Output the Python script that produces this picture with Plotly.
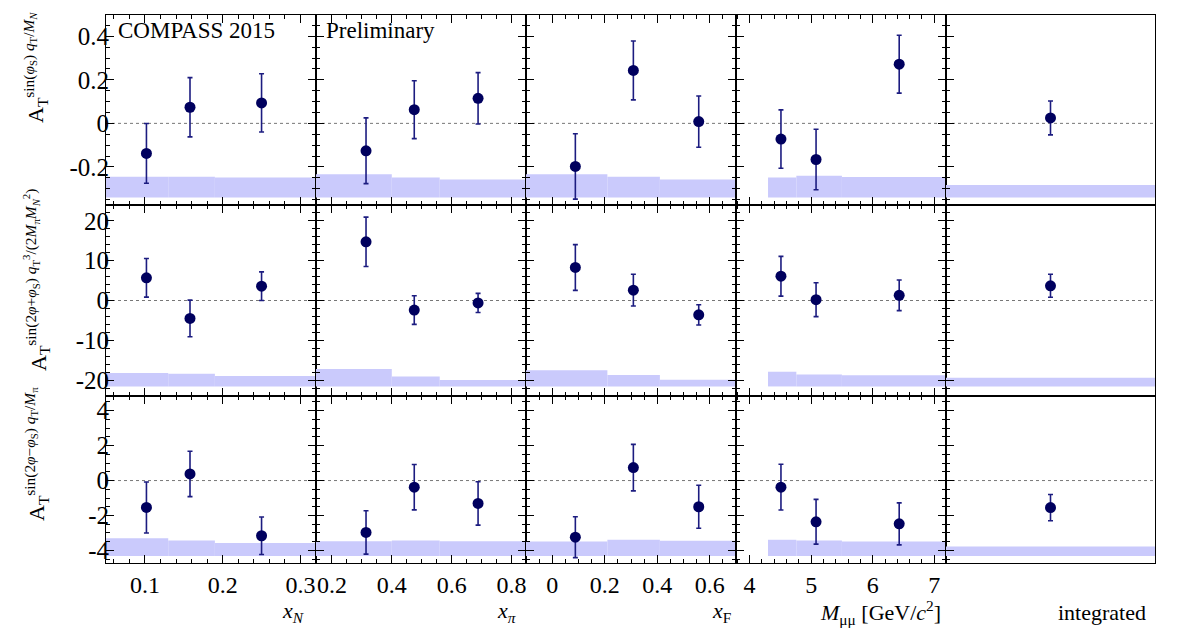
import plotly.graph_objects as go

# ---------------- data ----------------
xN_pts = [0.102, 0.158, 0.250]
xPi_pts = [0.314, 0.475, 0.688]
xF_pts = [0.088, 0.309, 0.558]
M_pts = [4.51, 5.08, 6.43]
int_pts = [0.5]

xN_edges = [0.05, 0.13, 0.19, 0.32]
xPi_edges = [0.147, 0.40, 0.56, 0.848]
xF_edges = [-0.10, 0.21, 0.41, 0.70]
M_edges = [4.30, 4.76, 5.50, 7.19]
int_edges = [0.0, 1.0]

A1_xN = [-0.138, 0.074, 0.094];  E1_xN = [0.137, 0.136, 0.134];  S1_xN = [0.095, 0.095, 0.091]
A1_xPi = [-0.126, 0.063, 0.115]; E1_xPi = [0.151, 0.133, 0.118]; S1_xPi = [0.106, 0.091, 0.082]
A1_xF = [-0.198, 0.243, 0.008];  E1_xF = [0.150, 0.135, 0.118];  S1_xF = [0.106, 0.095, 0.082]
A1_M = [-0.072, -0.166, 0.272];  E1_M = [0.134, 0.139, 0.133];   S1_M = [0.091, 0.099, 0.094]
A1_int = [0.025];                E1_int = [0.078];               S1_int = [0.057]

A2_xN = [5.7, -4.5, 3.6];        E2_xN = [4.85, 4.6, 3.6];       S2_xN = [3.4, 3.2, 2.6]
A2_xPi = [14.75, -2.4, -0.6];    E2_xPi = [6.2, 3.6, 2.4];       S2_xPi = [4.4, 2.5, 1.6]
A2_xF = [8.3, 2.6, -3.6];        E2_xF = [5.75, 4.0, 2.55];      S2_xF = [4.1, 2.9, 1.7]
A2_M = [6.1, 0.2, 1.3];          E2_M = [5.0, 4.25, 3.85];       S2_M = [3.7, 3.0, 2.8]
A2_int = [3.7];                  E2_int = [2.9];                 S2_int = [2.2]

A3_xN = [-1.54, 0.38, -3.16];    E3_xN = [1.46, 1.3, 1.07];      S3_xN = [1.01, 0.89, 0.74]
A3_xPi = [-2.97, -0.38, -1.31];  E3_xPi = [1.24, 1.3, 1.24];     S3_xPi = [0.85, 0.89, 0.85]
A3_xF = [-3.24, 0.74, -1.5];     E3_xF = [1.17, 1.33, 1.23];     S3_xF = [0.83, 0.93, 0.87]
A3_M = [-0.38, -2.36, -2.48];    E3_M = [1.31, 1.28, 1.2];       S3_M = [0.93, 0.89, 0.83]
A3_int = [-1.55];                E3_int = [0.75];                S3_int = [0.55]

y1_vals = [-0.2, 0, 0.2, 0.4];  y1_text = ["-0.2", "0", "0.2", "0.4"]
y2_vals = [-20, -10, 0, 10, 20]; y2_text = ["-20", "-10", "0", "10", "20"]
y3_vals = [-4, -2, 0, 2, 4];    y3_text = ["-4", "-2", "0", "2", "4"]
xN_vals = [0.1, 0.2, 0.3];       xN_text = ["0.1", "0.2", "0.3"]
xPi_vals = [0.2, 0.4, 0.6, 0.8]; xPi_text = ["0.2", "0.4", "0.6", "0.8"]
xF_vals = [0, 0.2, 0.4, 0.6];    xF_text = ["0", "0.2", "0.4", "0.6"]
M_vals = [4, 5, 6, 7];           M_text = ["4", "5", "6", "7"]

x_titles = ["<i>x</i><sub><i>N</i></sub>", "<i>x</i><sub><i>π</i></sub>",
            "<i>x</i><sub>F</sub>", "<i>M</i><sub>μμ</sub> [GeV/<i>c</i><sup>2</sup>]",
            "integrated"]
y_titles = [
    "A<sub>T</sub><sup>sin(<i>φ</i><sub>S</sub>) <i>q</i><sub>T</sub>/<i>M<sub>N</sub></i></sup>",
    "A<sub>T</sub><sup>sin(2<i>φ</i>+<i>φ</i><sub>S</sub>) <i>q</i><sub>T</sub><sup>3</sup>/(2<i>M</i><sub>π</sub><i>M</i><sub><i>N</i></sub><sup>2</sup>)</sup>",
    "A<sub>T</sub><sup>sin(2<i>φ</i>−<i>φ</i><sub>S</sub>) <i>q</i><sub>T</sub>/<i>M</i><sub>π</sub></sup>",
]

W, H = 1182, 640
FONT = "Liberation Serif"
col_px = [106, 316, 526, 736, 946, 1155]
row_px = [14.5, 205, 396, 563]
x_ranges = [[0.05, 0.32], [0.147, 0.848], [-0.10, 0.70], [3.78, 7.19], [0, 1]]
y_ranges = [[-0.375, 0.5], [-24, 24], [-4.72, 4.84]]
x_minor = [0.02, 0.05, 0.05, 0.2, None]
y_minor = [0.05, 2, 0.5]
band_base = [-0.34, -21.6, -4.32]

x_pts = [xN_pts, xPi_pts, xF_pts, M_pts, int_pts]
x_edges = [xN_edges, xPi_edges, xF_edges, M_edges, int_edges]
x_ticks = [(xN_vals, xN_text), (xPi_vals, xPi_text), (xF_vals, xF_text), (M_vals, M_text), ([], [])]
y_ticks = [(y1_vals, y1_text), (y2_vals, y2_text), (y3_vals, y3_text)]
A = [[A1_xN, A1_xPi, A1_xF, A1_M, A1_int],
     [A2_xN, A2_xPi, A2_xF, A2_M, A2_int],
     [A3_xN, A3_xPi, A3_xF, A3_M, A3_int]]
E = [[E1_xN, E1_xPi, E1_xF, E1_M, E1_int],
     [E2_xN, E2_xPi, E2_xF, E2_M, E2_int],
     [E3_xN, E3_xPi, E3_xF, E3_M, E3_int]]
S = [[S1_xN, S1_xPi, S1_xF, S1_M, S1_int],
     [S2_xN, S2_xPi, S2_xF, S2_M, S2_int],
     [S3_xN, S3_xPi, S3_xF, S3_M, S3_int]]

MARKER = "#00005e"
ERRCOL = "#1c1c80"
BAND = "#cacafc"
XTICKSIZE = 24
YTICKSIZE = 25

fig = go.Figure()
layout = dict(width=W, height=H, margin=dict(l=0, r=0, t=0, b=0),
              paper_bgcolor="white", plot_bgcolor="white", showlegend=False,
              barmode="overlay", font=dict(family=FONT, size=22, color="black"))
shapes = []
annotations = []

for r in range(3):
    for c in range(5):
        k = r * 5 + c + 1
        sx = "" if k == 1 else str(k)
        xa, ya = "x" + sx, "y" + sx
        edges = x_edges[c]
        centers = [(edges[i] + edges[i + 1]) / 2 for i in range(len(edges) - 1)]
        widths = [edges[i + 1] - edges[i] for i in range(len(edges) - 1)]
        fig.add_trace(go.Bar(x=centers, y=S[r][c], base=[band_base[r]] * len(centers),
                             width=widths, marker=dict(color=BAND, line=dict(width=0)),
                             xaxis=xa, yaxis=ya, hoverinfo="skip"))
        fig.add_trace(go.Scatter(x=x_pts[c], y=A[r][c], mode="markers",
                                 marker=dict(color=MARKER, size=11),
                                 error_y=dict(type="data", array=E[r][c], color=ERRCOL,
                                              thickness=1.6, width=2.5),
                                 xaxis=xa, yaxis=ya))
        shapes.append(dict(type="line", xref=xa + " domain", yref=ya, x0=0, x1=1, y0=0, y1=0,
                           line=dict(color="#777777", width=1, dash="dot"), layer="below"))
        has_x = c < 4
        xd = dict(domain=[col_px[c] / W, col_px[c + 1] / W], anchor=ya, range=x_ranges[c],
                  showline=True, linecolor="black", linewidth=1, showgrid=False, zeroline=False,
                  mirror="ticks" if has_x else True,
                  ticks="inside" if has_x else "", ticklen=8, tickcolor="black",
                  tickmode="array", tickvals=x_ticks[c][0], ticktext=x_ticks[c][1],
                  showticklabels=(r == 2 and has_x),
                  tickfont=dict(family=FONT, size=XTICKSIZE, color="black"))
        if has_x:
            xd["minor"] = dict(ticks="inside", ticklen=4, tickcolor="black",
                               tick0=0, dtick=x_minor[c], showgrid=False)
        yd = dict(domain=[1 - row_px[r + 1] / H, 1 - row_px[r] / H], anchor=xa, range=y_ranges[r],
                  showline=True, linecolor="black", linewidth=1, showgrid=False, zeroline=False,
                  mirror="ticks" if has_x else True,
                  ticks="inside", ticklen=8, tickcolor="black",
                  tickmode="array", tickvals=y_ticks[r][0], ticktext=y_ticks[r][1],
                  showticklabels=(c == 0), ticklabelstandoff=-9,
                  tickfont=dict(family=FONT, size=YTICKSIZE, color="black"),
                  minor=dict(ticks="inside", ticklen=4, tickcolor="black",
                             tick0=0, dtick=y_minor[r], showgrid=False))
        layout["xaxis" + sx] = xd
        layout["yaxis" + sx] = yd

title_right_px = [306, 519, 733, 943, 1148]
for c in range(5):
    annotations.append(dict(text=x_titles[c], xref="paper", yref="paper",
                            x=title_right_px[c] / W, y=1 - 612 / H, xanchor="right", yanchor="middle",
                            showarrow=False, font=dict(family=FONT, size=22, color="black")))

y_title_center = [68, 280, 454]
for r in range(3):
    annotations.append(dict(text=y_titles[r], xref="paper", yref="paper",
                            x=36 / W, y=1 - y_title_center[r] / H, xanchor="center", yanchor="middle",
                            textangle=-90, showarrow=False,
                            font=dict(family=FONT, size=22, color="black")))

annotations.append(dict(text="COMPASS 2015", xref="paper", yref="paper", x=116 / W, y=1 - 30 / H,
                        xanchor="left", yanchor="middle", showarrow=False,
                        font=dict(family=FONT, size=23, color="black")))
annotations.append(dict(text="Preliminary", xref="paper", yref="paper", x=324 / W, y=1 - 30 / H,
                        xanchor="left", yanchor="middle", showarrow=False,
                        font=dict(family=FONT, size=23, color="black")))

layout["shapes"] = shapes
layout["annotations"] = annotations
fig.update_layout(**layout)
fig.write_html("out.html")
